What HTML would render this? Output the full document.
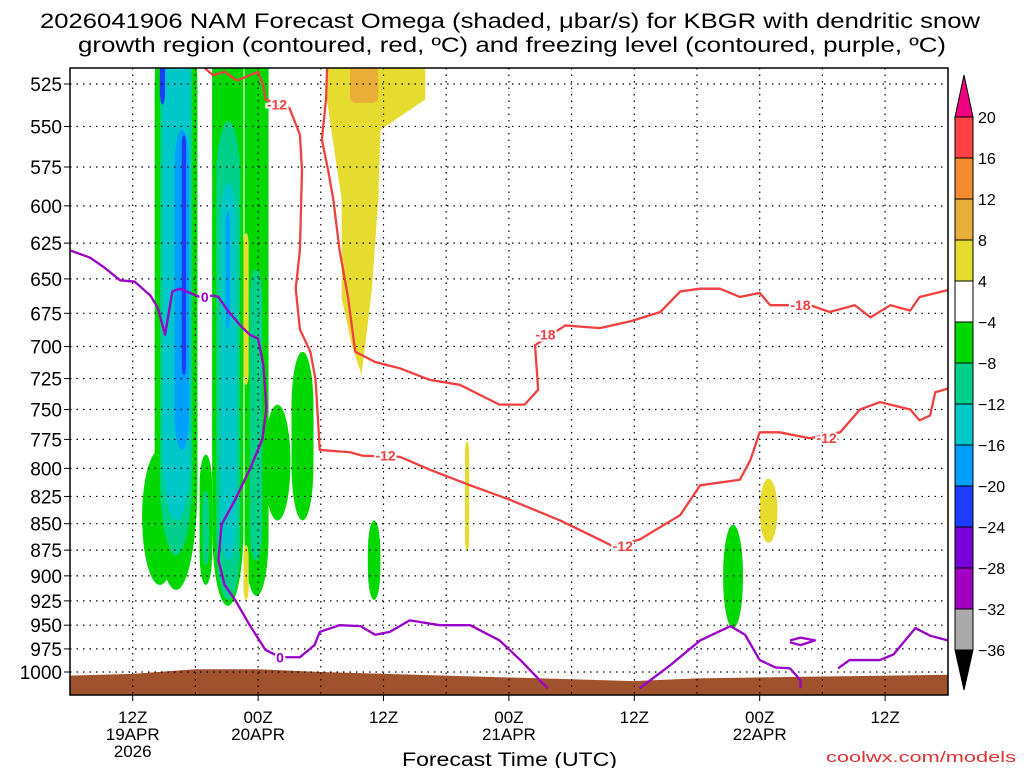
<!DOCTYPE html>
<html><head><meta charset="utf-8"><style>
body{margin:0;background:#fff;}
svg{display:block;font-family:"Liberation Sans",sans-serif;}
</style></head><body>
<svg id="c" width="1024" height="768" viewBox="0 0 1024 768">
<text x="40" y="28" font-size="21" textLength="940" lengthAdjust="spacingAndGlyphs">2026041906 NAM Forecast Omega (shaded, μbar/s) for KBGR with dendritic snow</text>
<text x="78" y="52" font-size="21" textLength="868" lengthAdjust="spacingAndGlyphs">growth region (contoured, red, ºC) and freezing level (contoured, purple, ºC)</text>
<defs><clipPath id="pc"><rect x="70" y="68" width="878" height="627"/></clipPath></defs>
<g id="plot" clip-path="url(#pc)"></g>
<g id="grid"></g>
<g id="lines" clip-path="url(#pc)"></g>
<rect x="70" y="68" width="878" height="627" fill="none" stroke="#000" stroke-width="1.5"/>
<g id="axes"></g>
<g id="cbar"></g>
<text x="402" y="766" font-size="19" textLength="215" lengthAdjust="spacingAndGlyphs">Forecast Time (UTC)</text>
<text x="826" y="762" font-size="15" fill="#e03030" textLength="190" lengthAdjust="spacingAndGlyphs">coolwx.com/models</text>
</svg>
<script>
const pLevels=[525,550,575,600,625,650,675,700,725,750,775,800,825,850,875,900,925,950,975,1000];
const xTickHours=[6,18,30,42,54,66,78];
const xTickLine1=["12Z","00Z","12Z","00Z","12Z","00Z","12Z"];
const xTickLine2=["19APR","20APR","","21APR","","22APR",""];
const xTickLine3=["2026","","","","","",""];
const cbLevels=[20,16,12,8,4,-4,-8,-12,-16,-20,-24,-28,-32,-36];
const cbColors=["#ff4242","#f28a2e","#e8ae38","#e6dc30","#ffffff","#00d800","#00d08a","#00c8c8","#00a0ff","#1e3cff","#7800d8","#a000c0","#aaaaaa"];
const colorByLevel={"g":"#00d800","t":"#00d08a","c":"#00c8c8","b":"#00a0ff","d":"#1e3cff","y":"#e6dc30","o":"#e8ae38"};
const blobH0=[8.1,6.9,8.6,8.9,10.0,10.7,8.6,13.6,16.7,14.0,14.4,14.9,17.2,18.6,21.2,12.4,12.7,16.6,16.6,37.8,66.0,28.5,62.5,26.8];
const blobH1=[12.2,10.3,11.7,11.5,11.4,11.1,9.1,16.6,19.0,16.3,15.9,15.3,18.4,21.1,23.3,13.6,13.3,17.1,17.1,38.2,67.7,29.7,64.4,29.5];
const blobPTop=[470,784,470,470,552,555,470,470,470,547,585,604,643,746,704,788,820,618,870,777,809,847,851,490];
const blobPBot=[914,909,880,847,784,722,537,930,920,924,885,687,885,847,847,909,890,730,924,875,868,924,953,536];
const blobLevel=["g","g","t","c","b","d","d","g","g","t","c","b","t","g","g","g","t","y","y","y","y","g","g","o"];
const funnelH=[24.5,34,34,29.7,29.5,28.9,27.9,27,26,26,25,24.5];
const funnelP=[505,505,534,552,596,657,722,700,664,596,552,530];
const terrainH=[0,6,12,18,24,36,48,54,60,72,84];
const terrainP=[1004,1002,997,997,1000,1004,1008,1010,1007,1005,1003];
const m12H=[12.9,13.7,14.8,16,18,18.5,18.7,21,22,22.2,22,21.6,22,23,23.5,23.9,26.8,28,31.6,34.4,38.3,42.1,46.9,50.7,51.9,54.5,58.4,60.3,64.1,65.1,66,67.9,70.8,73.7,75.6,77.5,80.4,81.3,82.3,82.8,84];
const m12P=[516,520,518,523,518,526,534,539,555,577,630,657,687,704,726,784,786,789,790,801,815,828,847,865,871,865,842,815,810,793,769,769,774,769,750,744,750,759,755,736,733];
const m18H=[24.6,24.5,24.1,24.7,25.2,25.8,26.6,27.3,29.2,31.6,34.4,37.3,39.2,41.1,43.5,44.8,44.5,47.4,50.7,53.6,56.5,58.4,60.3,62.2,64.1,66,67,70.8,72.7,75.1,76.6,78.5,80.4,81.3,84];
const m18P=[516,534,558,577,596,630,663,704,712,717,726,730,738,746,746,734,699,684,686,681,674,659,657,657,663,660,669,669,674,669,678,669,673,663,658];
const f0aH=[0,1.9,3.3,4.8,6.2,7.7,8.4,9.1,9.8,10.5,12.4,13.7,14.2,15.1,16.3,17.2,18,18.5,18.8,18.4,17.2,15.8,14.5,14.2,14.8,15.8,17.2,18.7,20.1,22,23.4,23.9,25.8,27.8,29.2,30.6,32.5,35.4,38.3,41.1,43.1,45.7];
const f0aP=[630,635,642,651,652,662,671,691,659,657,663,662,663,673,684,691,694,714,749,775,801,828,851,885,909,924,950,976,984,984,971,957,950,951,960,957,945,950,950,966,987,1018];
const f0bH=[54.5,57.4,60.3,63.2,64.6,66,67.5,68.9,69.9,69.9];
const f0bP=[1018,993,966,951,960,987,995,996,1009,1018];
const f0cH=[68.9,69.9,71.3,69.9,68.9];
const f0cP=[966,963,966,971,968];
const f0dH=[73.5,74.6,77.5,78.8,80.9,82.3,84];
const f0dP=[996,987,987,981,953,961,966];
const labelH=[19.8,30.2,52.9,72.4,45.5,69.9,12.9,20.1];
const labelP=[537,789,871,774,691,669,663,984];
const labelTxt=["-12","-12","-12","-12","-18","-18","0","0"];
const labelClr=["r","r","r","r","r","r","p","p"];

const NS="http://www.w3.org/2000/svg";
const X0=70,PXH=10.45,Y525=84,YSPAN=588,LR=Math.log(1000/525);
function xs(h){return X0+h*PXH;}
function ys(p){return Y525+Math.log(p/525)/LR*YSPAN;}
function mk(tag,attrs,parent){const e=document.createElementNS(NS,tag);for(const k in attrs)e.setAttribute(k,attrs[k]);parent.appendChild(e);return e;}
const plot=document.getElementById('plot'),grid=document.getElementById('grid'),lines=document.getElementById('lines'),axes=document.getElementById('axes'),cbar=document.getElementById('cbar');

for(let i=0;i<blobH0.length;i++){
  const x0=xs(blobH0[i]),x1=xs(blobH1[i]),y0=ys(blobPTop[i]),y1=ys(blobPBot[i]);
  const w=x1-x0,h=y1-y0;
  const r=mk('rect',{x:x0,y:y0,width:w,height:h,rx:w/2,ry:Math.min(h/2,w*2.5),fill:colorByLevel[blobLevel[i]]},plot);
  
  
}
{
  const pts=funnelH.map((h,i)=>xs(h)+','+ys(funnelP[i])).join(' ');
  const f=mk('polygon',{points:pts,fill:"#e6dc30"},plot);
  
  
  const o=mk('rect',{x:xs(26.8),y:ys(490),width:xs(29.5)-xs(26.8),height:ys(536)-ys(490),rx:6,fill:"#e8ae38"},plot);
  
  
}
{
  let d='M'+xs(terrainH[0])+','+ys(terrainP[0]);
  for(let i=1;i<terrainH.length;i++)d+=' L'+xs(terrainH[i])+','+ys(terrainP[i]);
  d+=' L'+xs(84)+',700 L'+xs(0)+',700 Z';
  const t=mk('path',{d:d,fill:"#a0522d"},plot);
  
  
}
pLevels.forEach(p=>{
  const y=ys(p);
  const g=mk('line',{x1:70,x2:948,y1:y,y2:y,stroke:"#000","stroke-dasharray":"1.5,5","stroke-width":1.2},grid);
  
  
  const tk=mk('line',{x1:64,x2:70,y1:y,y2:y,stroke:"#000"},axes);
  
  
  const t=mk('text',{x:62,y:y+7,"text-anchor":"end","font-size":19},axes);
  t.textContent=p;
  
  
});
for(let h=6;h<84;h+=6){
  const x=xs(h);
  const g=mk('line',{x1:x,x2:x,y1:68,y2:695,stroke:"#000","stroke-dasharray":"1.5,5","stroke-width":1.2},grid);
  
  
}
xTickHours.forEach((h,i)=>{
  const x=xs(h);
  const tk=mk('line',{x1:x,x2:x,y1:695,y2:701,stroke:"#000"},axes);
  
  
  [xTickLine1[i],xTickLine2[i],xTickLine3[i]].forEach((s,j)=>{
    if(!s)return;
    const t=mk('text',{x:x,y:723+j*17,"text-anchor":"middle","font-size":17},axes);
    t.textContent=s;
    
    
  });
});
function poly(H,P,color,name){
  const pts=H.map((h,i)=>xs(h)+','+ys(P[i])).join(' ');
  const l=mk('polyline',{points:pts,fill:"none",stroke:color,"stroke-width":2.3,"stroke-linejoin":"round"},lines);
  
  
}
poly(m12H,m12P,"#f04040","contour-minus12");
poly(m18H,m18P,"#f04040","contour-minus18");
poly(f0aH,f0aP,"#9a00c8","freezing-level-0");
poly(f0bH,f0bP,"#9a00c8","freezing-level-0");
poly(f0cH,f0cP,"#9a00c8","freezing-level-0");
poly(f0dH,f0dP,"#9a00c8","freezing-level-0");
labelH.forEach((h,i)=>{
  const c=labelClr[i]==="r"?"#f04040":"#9a00c8";
  const t=mk('text',{x:xs(h),y:ys(labelP[i])+5,"text-anchor":"middle","font-size":14,"font-weight":"bold",fill:c,stroke:"#fff","stroke-width":4,"paint-order":"stroke"},lines);
  t.textContent=labelTxt[i];
  
  
});
const CBX=955,CBW=18,CBY0=117,CBSTEP=41;
{
  const tri=mk('polygon',{points:`${CBX},${CBY0} ${CBX+CBW},${CBY0} ${CBX+CBW/2},75`,fill:"#f0007e",stroke:"#000"},cbar);
  
  
}
cbColors.forEach((c,i)=>{
  const r=mk('rect',{x:CBX,y:CBY0+i*CBSTEP,width:CBW,height:CBSTEP,fill:c,stroke:"#000"},cbar);
  
  
});
{
  const yb=CBY0+cbColors.length*CBSTEP;
  const tri=mk('polygon',{points:`${CBX},${yb} ${CBX+CBW},${yb} ${CBX+CBW/2},${yb+40}`,fill:"#000",stroke:"#000"},cbar);
  
  
}
cbLevels.forEach((v,i)=>{
  const t=mk('text',{x:978,y:CBY0+i*CBSTEP+6,"font-size":16},cbar);
  t.textContent=v<0?"−"+(-v):String(v);
  
  
});
</script>
</body></html>
